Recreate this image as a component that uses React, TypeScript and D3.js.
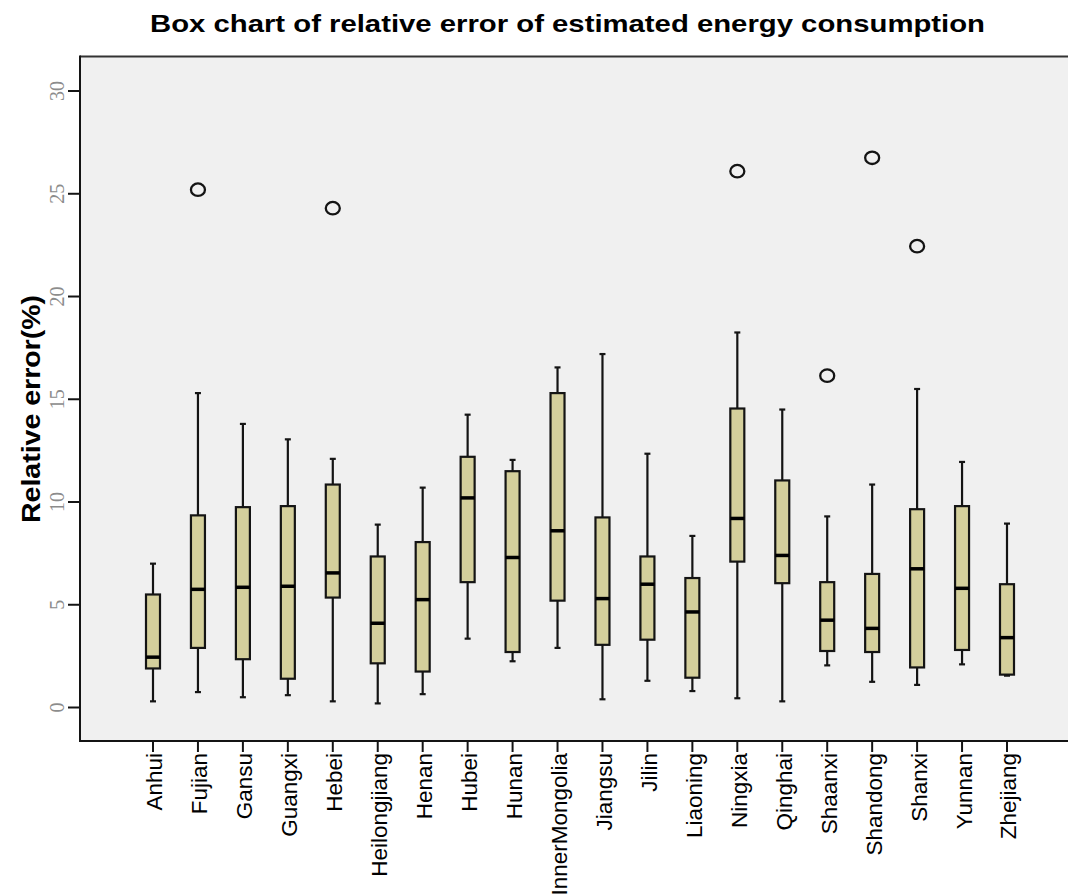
import React from "react";
import * as d3 from "d3";

// Provinces on the category axis
const provinces = [
  "Anhui", "Fujian", "Gansu", "Guangxi", "Hebei", "Heilongjiang", "Henan", "Hubei",
  "Hunan", "InnerMongolia", "Jiangsu", "Jilin", "Liaoning", "Ningxia", "Qinghai",
  "Shaanxi", "Shandong", "Shanxi", "Yunnan", "Zhejiang",
];

// Box statistics of relative error (%), one entry per province
const whiskerLow = [0.3, 0.75, 0.5, 0.6, 0.3, 0.2, 0.65, 3.35, 2.25, 2.9, 0.4, 1.3, 0.8, 0.45, 0.3, 2.05, 1.25, 1.1, 2.1, 1.55];
const quartile1 = [1.9, 2.9, 2.35, 1.4, 5.35, 2.15, 1.75, 6.1, 2.7, 5.2, 3.05, 3.3, 1.45, 7.1, 6.05, 2.75, 2.7, 1.95, 2.8, 1.6];
const medians = [2.45, 5.75, 5.85, 5.9, 6.55, 4.1, 5.25, 10.2, 7.3, 8.6, 5.3, 6.0, 4.65, 9.2, 7.4, 4.25, 3.85, 6.75, 5.8, 3.4];
const quartile3 = [5.5, 9.35, 9.75, 9.8, 10.85, 7.35, 8.05, 12.2, 11.5, 15.3, 9.25, 7.35, 6.3, 14.55, 11.05, 6.1, 6.5, 9.65, 9.8, 6.0];
const whiskerHigh = [7.0, 15.3, 13.8, 13.05, 12.1, 8.9, 10.7, 14.25, 12.05, 16.55, 17.2, 12.35, 8.35, 18.25, 14.5, 9.3, 10.85, 15.5, 11.95, 8.95];

// Outlying observations
const outlierProvince = ["Fujian", "Hebei", "Ningxia", "Shaanxi", "Shandong", "Shanxi"];
const outlierValue = [25.2, 24.3, 26.1, 16.15, 26.75, 22.45];

const yTicks = [0, 5, 10, 15, 20, 25, 30];

const W = 1068;
const H = 895;
const panelLeft = 80;
const panelTop = 56.5;
const panelBottom = 741;

const BOX_FILL = "#d4cf9c";
const INK = "#141414";

export default function App() {
  const x = d3.scalePoint<string>().domain(provinces).range([153, 1007]);
  const y = d3.scaleLinear().domain([-1.63, 31.68]).range([panelBottom, panelTop]);

  const boxW = 14;
  const capW = 6;

  const boxes = provinces.map((p, i) => ({
    name: p,
    lo: whiskerLow[i],
    q1: quartile1[i],
    med: medians[i],
    q3: quartile3[i],
    hi: whiskerHigh[i],
  }));

  const outliers = outlierProvince.map((p, i) => ({ name: p, v: outlierValue[i] }));

  return (
    <div style={{ position: "absolute", left: 0, top: 0, background: "#fff" }}>
      <svg width={W} height={H} style={{ display: "block" }}>
        <rect x={0} y={0} width={W} height={H} fill="#ffffff" />

        {/* title */}
        <text
          x={150}
          y={32}
          fontFamily="'Liberation Sans', Arial, sans-serif"
          fontWeight="bold"
          fontSize={24}
          textLength={835}
          lengthAdjust="spacingAndGlyphs"
          fill="#000"
        >
          Box chart of relative error of estimated energy consumption
        </text>

        {/* plot panel */}
        <rect
          x={panelLeft}
          y={panelTop}
          width={W - panelLeft}
          height={panelBottom - panelTop}
          fill="#f0f0f0"
        />
        <line x1={panelLeft} x2={W} y1={panelTop} y2={panelTop} stroke="#333" strokeWidth={2} />
        <line x1={panelLeft} x2={W} y1={panelBottom} y2={panelBottom} stroke={INK} strokeWidth={2} />
        <line x1={panelLeft} x2={panelLeft} y1={panelTop - 1} y2={panelBottom + 1} stroke={INK} strokeWidth={2} />

        {/* y axis ticks and labels */}
        {yTicks.map((t) => (
          <g key={t}>
            <line x1={panelLeft - 12} x2={panelLeft} y1={y(t)} y2={y(t)} stroke={INK} strokeWidth={2} />
            <text
              transform={`translate(64, ${y(t)}) rotate(-90)`}
              textAnchor="middle"
              fontFamily="'Liberation Serif', 'Times New Roman', serif"
              fontSize={20}
              fill="#8c8c8c"
            >
              {t}
            </text>
          </g>
        ))}

        {/* y axis title */}
        <text
          transform={`translate(40, 409) rotate(-90)`}
          textAnchor="middle"
          fontFamily="'Liberation Sans', Arial, sans-serif"
          fontWeight="bold"
          fontSize={26}
          textLength={228}
          lengthAdjust="spacingAndGlyphs"
          fill="#000"
        >
          Relative error(%)
        </text>

        {/* x axis ticks and labels */}
        {provinces.map((p) => (
          <g key={p}>
            <line x1={x(p)} x2={x(p)} y1={panelBottom} y2={panelBottom + 11} stroke={INK} strokeWidth={2} />
            <text
              transform={`translate(${x(p)}, ${panelBottom + 12}) rotate(-90)`}
              textAnchor="end"
              dy="0.42em"
              fontFamily="'Liberation Sans', Arial, sans-serif"
              fontSize={22.5}
              fill="#000"
            >
              {p}
            </text>
          </g>
        ))}

        {/* boxes */}
        {boxes.map((b) => {
          const cx = x(b.name) as number;
          return (
            <g key={b.name}>
              <line x1={cx} x2={cx} y1={y(b.hi)} y2={y(b.q3)} stroke={INK} strokeWidth={2.2} />
              <line x1={cx} x2={cx} y1={y(b.q1)} y2={y(b.lo)} stroke={INK} strokeWidth={2.2} />
              <line x1={cx - capW / 2} x2={cx + capW / 2} y1={y(b.hi)} y2={y(b.hi)} stroke={INK} strokeWidth={2.2} />
              <line x1={cx - capW / 2} x2={cx + capW / 2} y1={y(b.lo)} y2={y(b.lo)} stroke={INK} strokeWidth={2.2} />
              <rect
                x={cx - boxW / 2}
                y={y(b.q3)}
                width={boxW}
                height={y(b.q1) - y(b.q3)}
                fill={BOX_FILL}
                stroke={INK}
                strokeWidth={2.2}
              />
              <line
                x1={cx - boxW / 2}
                x2={cx + boxW / 2}
                y1={y(b.med)}
                y2={y(b.med)}
                stroke="#000"
                strokeWidth={3.5}
              />
            </g>
          );
        })}

        {/* outliers */}
        {outliers.map((o) => (
          <ellipse
            key={o.name}
            cx={x(o.name) as number}
            cy={y(o.v)}
            rx={7}
            ry={6.2}
            fill="none"
            stroke={INK}
            strokeWidth={2.3}
          />
        ))}
      </svg>
    </div>
  );
}
